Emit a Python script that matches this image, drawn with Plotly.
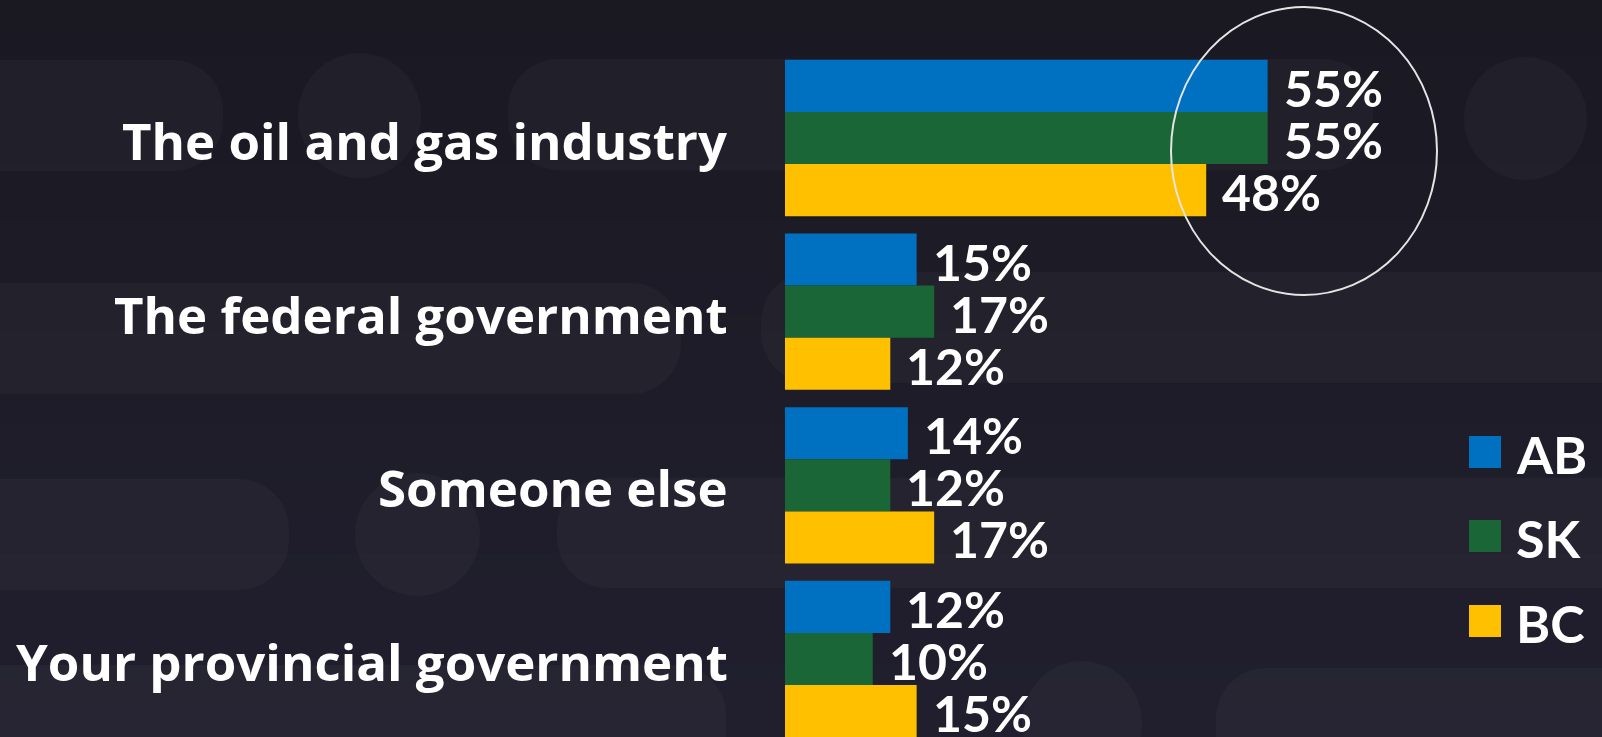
import plotly.graph_objects as go

# ---------------- data ----------------
categories = ["The oil and gas industry", "The federal government",
              "Someone else", "Your provincial government"]
series_names = ["AB", "SK", "BC"]
ab_values = [55, 15, 14, 12]
sk_values = [55, 17, 12, 10]
bc_values = [48, 12, 17, 15]
series_colors = ["#0070c0", "#1b6637", "#ffc000"]

# ---------------- geometry ----------------
W, H = 1602, 737
ML = 785            # left margin (x=0 of bars)
PW = W - ML         # plot width
PX_PER_PCT = 8.775
XMAX = PW / PX_PER_PCT
BAND = 173.67       # px per category
FIRST_CENTER = 138.0
y_top = -FIRST_CENTER / BAND
y_bot = (len(categories) - 1) + (H - (FIRST_CENTER + BAND * (len(categories) - 1))) / BAND

FONT = "Lato"
LABEL_FONT = "Open Sans"


def px(x):
    return (x - ML) / PW


def py(y):
    return (H - y) / H


fig = go.Figure()
values = [ab_values, sk_values, bc_values]
for name, vals, col in zip(series_names, values, series_colors):
    fig.add_trace(go.Bar(
        y=categories, x=vals, name=name, orientation="h",
        marker=dict(color=col, line=dict(width=0)),
        showlegend=False, hoverinfo="x+name",
    ))

shapes = []

# background gradient
top_rgb = (0x1a, 0x19, 0x22)
bot_rgb = (0x21, 0x1f, 0x2e)
NB = 40
for i in range(NB):
    t = i / (NB - 1)
    c = tuple(int(round(a + (b - a) * t)) for a, b in zip(top_rgb, bot_rgb))
    y0 = H * i / NB
    y1 = H * (i + 1) / NB + 1
    shapes.append(dict(type="rect", xref="paper", yref="paper", layer="below",
                       x0=px(-5), x1=px(W + 5), y0=py(y1), y1=py(y0),
                       fillcolor="rgb(%d,%d,%d)" % c, line=dict(width=0)))

PILL_COL = "rgba(255,255,255,0.028)"


def pill(x0, x1, y0, y1, r=50):
    k = 0.5523 * r

    def P(x, y):
        return "%.5f,%.5f" % (px(x), py(y))
    d = ("M " + P(x0 + r, y0) +
         " L " + P(x1 - r, y0) +
         " C " + P(x1 - r + k, y0) + " " + P(x1, y0 + r - k) + " " + P(x1, y0 + r) +
         " L " + P(x1, y1 - r) +
         " C " + P(x1, y1 - r + k) + " " + P(x1 - r + k, y1) + " " + P(x1 - r, y1) +
         " L " + P(x0 + r, y1) +
         " C " + P(x0 + r - k, y1) + " " + P(x0, y1 - r + k) + " " + P(x0, y1 - r) +
         " L " + P(x0, y0 + r) +
         " C " + P(x0, y0 + r - k) + " " + P(x0 + r - k, y0) + " " + P(x0 + r, y0) + " Z")
    return dict(type="path", xref="paper", yref="paper", layer="below", path=d,
                fillcolor=PILL_COL, line=dict(width=0))


def circ(x0, x1, y0, y1):
    return dict(type="circle", xref="paper", yref="paper", layer="below",
                x0=px(x0), x1=px(x1), y0=py(y1), y1=py(y0),
                fillcolor=PILL_COL, line=dict(width=0))


pills = [(-80, 223, 60, 171), (508, 1373, 59, 170),
         (-80, 681, 283, 394), (761, 1750, 272, 383),
         (-80, 289, 479, 590), (557, 1750, 478, 588),
         (-80, 726, 665, 800), (1216, 1750, 668, 800)]
circles = [(298, 421, 53, 178), (1464, 1587, 57, 180),
           (355, 480, 473, 596), (1022, 1142, 661, 785)]
for p in pills:
    shapes.append(pill(*p))
for c in circles:
    shapes.append(circ(*c))

# highlight ellipse
shapes.append(dict(type="circle", xref="paper", yref="paper", layer="above",
                   x0=px(1171), x1=px(1437), y0=py(295), y1=py(7),
                   line=dict(color="#e4e4e4", width=2), fillcolor="rgba(0,0,0,0)"))

# legend squares
legend_centers = [452, 536, 621]
for name, col, cy in zip(series_names, series_colors, legend_centers):
    shapes.append(dict(type="rect", xref="paper", yref="paper", layer="above",
                       x0=px(1469), x1=px(1501), y0=py(cy + 16), y1=py(cy - 16),
                       fillcolor=col, line=dict(width=0)))

annotations = []
# category labels
for i, cat in enumerate(categories):
    annotations.append(dict(x=0, y=i, xref="x", yref="y", text=cat, showarrow=False,
                            xanchor="right", yanchor="middle", xshift=-55, yshift=-2,
                            font=dict(family=LABEL_FONT, size=51, color="white", weight="bold")))
# value labels
offsets = [-0.3, 0.0, 0.3]
for vals, off in zip(values, offsets):
    for i, v in enumerate(vals):
        annotations.append(dict(x=v, y=i + off, xref="x", yref="y", text="%d%%" % v,
                                showarrow=False, xanchor="left", yanchor="middle",
                                xshift=14, yshift=-2,
                                font=dict(family=FONT, size=50, color="white", weight="bold")))
# legend labels
for name, cy in zip(series_names, legend_centers):
    annotations.append(dict(x=px(1514), y=py(cy), xref="paper", yref="paper", text=name,
                            showarrow=False, xanchor="left", yanchor="middle", yshift=-2,
                            font=dict(family=FONT, size=52, color="white", weight="bold")))

fig.update_layout(
    width=W, height=H,
    margin=dict(l=ML, r=0, t=0, b=0, pad=0),
    paper_bgcolor="#1a1922", plot_bgcolor="rgba(0,0,0,0)",
    barmode="group", bargap=0.1, bargroupgap=0,
    xaxis=dict(range=[0, XMAX], showgrid=False, zeroline=False, showticklabels=False,
               showline=False, fixedrange=True),
    yaxis=dict(type="category", categoryorder="array", categoryarray=categories,
               range=[y_bot, y_top], showgrid=False, zeroline=False,
               showticklabels=False, showline=False, fixedrange=True),
    shapes=shapes, annotations=annotations,
    showlegend=False,
)

fig.write_html("out.html", config={"displayModeBar": False},
               post_script="document.body.style.margin='0';document.body.style.overflow='hidden';")
